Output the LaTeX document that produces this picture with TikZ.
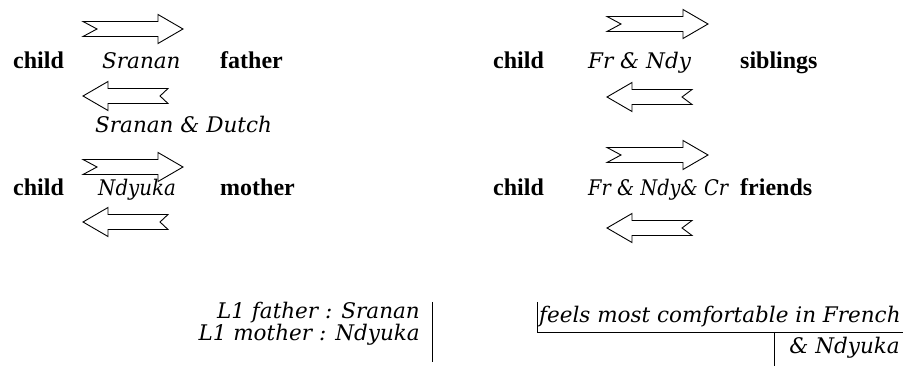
\documentclass[tikz,border=0pt]{standalone}
\usepackage{fontspec}
\setmainfont{Liberation Serif}
\newfontfamily\itfont{DejaVu Serif}[UprightFont=* Italic]
\begin{document}
\begin{tikzpicture}[x=1pt,y=-1pt,
  lbl/.style={inner sep=0pt,anchor=base west,font=\fontsize{24}{24}\selectfont\bfseries},
  lang/.style={inner sep=0pt,anchor=base west,font=\fontsize{21.5}{21.5}\selectfont\itfont},
  note/.style={inner sep=0pt,font=\fontsize{21.5}{21.5}\selectfont\itfont},
  cell/.style={line width=0.9pt},
  blk/.style={draw=black,fill=white,line width=0.9pt,line join=miter},
  pics/blockarrow/.style args={#1/#2}{code={
    \draw[blk] (0,-7.5) -- (#1-25,-7.5) -- (#1-25,-14.5) -- (#1,0) -- (#1-25,14.5)
      -- (#1-25,7.5) -- (0,7.5) -- (#2,0) -- cycle;}}]
\useasboundingbox (0,0) rectangle (903,366);
\fill[white] (0,0) rectangle (903,366);

% left block
\node[lbl] (c1) at (13,69) {child};
\node[lang] (l1) at (102,69) {Sranan};
\node[lbl] (f1) at (220,69) {father};
\node[lang] (l2) at (95,133) {Sranan \& Dutch};
\node[lbl] (c2) at (13,196) {child};
\node[lang] (l3) at (98,196) {\scalebox{0.92}[1]{Ndyuka}};
\node[lbl] (m2) at (220,196) {mother};
\pic at (83,29) {blockarrow={100/14}};
\pic[xscale=-1] at (168,96) {blockarrow={85/8}};
\pic at (83,167) {blockarrow={100/14}};
\pic[xscale=-1] at (168,222) {blockarrow={85/8}};

% right block
\node[lbl] (c3) at (493,69) {child};
\node[lang] (l4) at (588,69) {Fr \& Ndy};
\node[lbl] (s3) at (740,69) {siblings};
\node[lbl] (c4) at (493,196) {child};
\node[lang] (l5) at (588,196) {\scalebox{0.9}[1]{Fr \& Ndy\& Cr}};
\node[lbl] (fr4) at (740,196) {friends};
\pic at (607,24) {blockarrow={101/14}};
\pic[xscale=-1] at (692,97) {blockarrow={85/10}};
\pic at (607,155) {blockarrow={101/14}};
\pic[xscale=-1] at (692,228) {blockarrow={85/10}};

% bottom notes
\node[note,anchor=base east] (n1) at (420,319) {L1 father : Sranan};
\node[note,anchor=base east] (n2) at (420,341) {L1 mother : Ndyuka};
\draw[cell] (432,302) -- (432,362);
\node[note,anchor=base west] (n3) at (539,323) {feels most comfortable in French};
\node[note,anchor=base east] (n4) at (900,353) {\& Ndyuka};
\draw[cell] (537,302) -- (537,332) -- (903,332);
\draw[cell] (774,332) -- (774,366);
\end{tikzpicture}
\end{document}
